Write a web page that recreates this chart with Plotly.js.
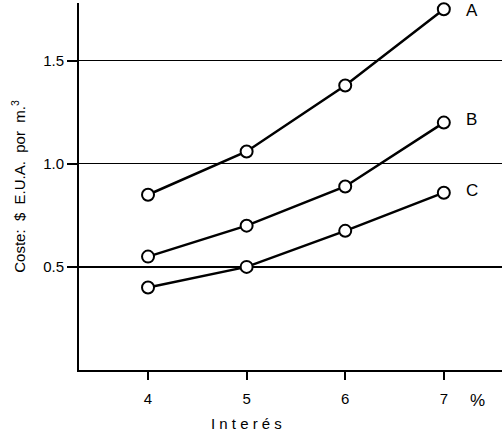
<!DOCTYPE html>
<html>
<head>
<meta charset="utf-8">
<script src="https://cdn.plot.ly/plotly-3.0.1.min.js"></script>
<style>html,body{margin:0;padding:0;background:#fff;}#chart{width:504px;height:435px;}</style>
</head>
<body>
<div id="chart"></div>
<script>
const interes = [4, 5, 6, 7];
const serieA = [0.85, 1.06, 1.38, 1.75];
const serieB = [0.55, 0.70, 0.89, 1.20];
const serieC = [0.40, 0.50, 0.675, 0.86];
const seriesNames = ['A', 'B', 'C'];
const xTickVals = [4, 5, 6, 7];
const yTickVals = [0.5, 1.0, 1.5];
const yTickText = ['0.5', '1.0', '1.5'];

const FONT = 'Liberation Sans, Arial, sans-serif';
const allSeries = [serieA, serieB, serieC];
const traces = allSeries.map((ys, i) => ({
  x: interes, y: ys, type: 'scatter', mode: 'lines+markers', name: seriesNames[i],
  line: {color: '#000', width: 2.5},
  marker: {symbol: 'circle', size: 12, color: '#fff', line: {color: '#000', width: 2}},
  showlegend: false, cliponaxis: false
}));

const annotations = allSeries.map((ys, i) => ({
  x: interes[interes.length - 1], y: ys[ys.length - 1], xref: 'x', yref: 'y',
  text: seriesNames[i], showarrow: false, xshift: 28, yshift: [-1, 3, 2][i],
  font: {family: FONT, size: 17, color: '#000'}
}));
annotations.push({
  x: 7, y: 0, xref: 'x', yref: 'y', text: '%', showarrow: false,
  xshift: 34, yshift: -30, font: {family: FONT, size: 17, color: '#000'}
});
annotations.push({
  x: 5, y: 0, xref: 'x', yref: 'y', text: 'I n t e r é s', showarrow: false,
  yshift: -53, font: {family: FONT, size: 15, color: '#000'}
});

const layout = {
  width: 504, height: 435,
  margin: {l: 79, r: 2, t: 3, b: 65},
  paper_bgcolor: '#fff', plot_bgcolor: '#fff',
  font: {family: FONT, size: 13, color: '#000'},
  xaxis: {
    range: [3.3, 7.59], tickvals: xTickVals, ticks: 'outside', ticklen: 8, tickwidth: 2, tickcolor: '#000',
    showline: true, linecolor: '#000', linewidth: 2, showgrid: false, zeroline: false,
    tickfont: {size: 15}, ticklabelstandoff: 6
  },
  yaxis: {
    range: [0, 1.78], tickvals: yTickVals, ticktext: yTickText, ticks: 'outside', ticklen: 10, tickwidth: 2, tickcolor: '#000',
    showline: true, linecolor: '#000', linewidth: 2, showgrid: true, gridcolor: '#000', gridwidth: 1.3, zeroline: false,
    tickfont: {size: 15},
    title: {text: 'Coste:  $  E.U.A.  por  m.<sup>3</sup>', font: {size: 15}, standoff: 14}
  },
  annotations: annotations
};

Plotly.newPlot('chart', traces, layout, {displayModeBar: false, staticPlot: true});
</script>
</body>
</html>
